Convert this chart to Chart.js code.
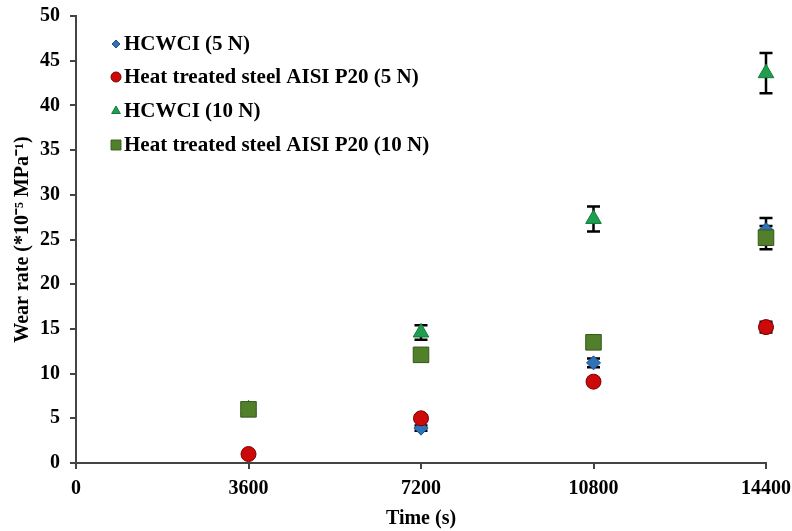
<!DOCTYPE html>
<html><head><meta charset="utf-8">
<script src="https://cdn.jsdelivr.net/npm/chart.js@4/dist/chart.umd.min.js"></script>
<style>html,body{margin:0;padding:0;background:#fff}#wrap{width:792px;height:531px}</style>
</head><body><div id="wrap"><canvas id="c" width="792" height="531"></canvas></div>
<script>
const times = [3600, 7200, 10800, 14400];
const seriesNames = ["HCWCI (5 N)", "Heat treated steel AISI P20 (5 N)", "HCWCI (10 N)", "Heat treated steel AISI P20 (10 N)"];
const hcwci5 = [1.0, 3.9, 11.2, 26.1];
const hcwci5Err = [0.2, 0.3, 0.5, 1.3];
const p20_5 = [1.0, 5.0, 9.1, 15.2];
const p20_5Err = [0.2, 0.3, 0.3, 0.6];
const hcwci10 = [6.0, 14.6, 27.3, 43.6];
const hcwci10Err = [0.3, 0.8, 1.4, 2.25];
const p20_10 = [6.0, 12.1, 13.5, 25.2];
const p20_10Err = [0.3, 0.3, 0.3, 1.3];
const yTicks = [0,5,10,15,20,25,30,35,40,45,50];
const xTicks = [0,3600,7200,10800,14400];

const FONT = "'Liberation Serif', 'Times New Roman', serif";
function pts(vals){ return times.map((t,i)=>({x:t,y:vals[i]})); }

const errorBars = {
  id:'errorBars',
  beforeDatasetsDraw(chart){
    const ctx = chart.ctx, xs = chart.scales.x, ys = chart.scales.y;
    ctx.save();
    ctx.strokeStyle = '#000'; ctx.lineWidth = 2.5;
    chart.data.datasets.forEach(ds=>{
      ds.data.forEach((p,i)=>{
        const e = ds.errors[i];
        const px = xs.getPixelForValue(p.x);
        const top = ys.getPixelForValue(p.y + e), bot = ys.getPixelForValue(p.y - e);
        ctx.beginPath();
        ctx.moveTo(px, top); ctx.lineTo(px, bot);
        ctx.moveTo(px-6.5, top); ctx.lineTo(px+6.5, top);
        ctx.moveTo(px-6.5, bot); ctx.lineTo(px+6.5, bot);
        ctx.stroke();
      });
    });
    ctx.restore();
  }
};

const customLegend = {
  id:'customLegend',
  afterDraw(chart){
    const ctx = chart.ctx;
    const rows = [44, 77, 111, 145];
    ctx.save();
    ctx.font = "bold 21px " + FONT;
    ctx.textBaseline = 'middle';
    chart.data.datasets.forEach((ds,i)=>{
      const y = rows[i];
      ctx.fillStyle = ds.backgroundColor; ctx.strokeStyle = ds.borderColor; ctx.lineWidth = 1;
      Chart.helpers.drawPoint(ctx, {pointStyle: ds.pointStyle, radius: ds.legendRadius, borderWidth:1}, 116, y);
      ctx.fillStyle = '#000';
      ctx.fillText(ds.label, 124, y+1);
    });
    ctx.restore();
  }
};

new Chart(document.getElementById('c'), {
  type:'scatter',
  data:{ datasets:[
    {label:seriesNames[0], data:pts(hcwci5), errors:hcwci5Err, pointStyle:'rectRot', pointRadius:7, legendRadius:4,
     backgroundColor:'#2f72b8', borderColor:'#1d4f88', borderWidth:1, order:4, clip:false},
    {label:seriesNames[1], data:pts(p20_5), errors:p20_5Err, pointStyle:'circle', pointRadius:7.5, legendRadius:5,
     backgroundColor:'#cc0a0a', borderColor:'#7a0000', borderWidth:1, order:3, clip:false},
    {label:seriesNames[2], data:pts(hcwci10), errors:hcwci10Err, pointStyle:'triangle', pointRadius:9, legendRadius:5,
     backgroundColor:'#1f9e50', borderColor:'#137a3a', borderWidth:1, order:2, clip:false},
    {label:seriesNames[3], data:pts(p20_10), errors:p20_10Err, pointStyle:'rect', pointRadius:11, legendRadius:7,
     backgroundColor:'#527f2a', borderColor:'#35591a', borderWidth:1, order:1, clip:false}
  ]},
  options:{
    responsive:false, animation:false,
    layout:{padding:{top:16,right:26,left:0,bottom:0}},
    plugins:{legend:{display:false}, tooltip:{enabled:false}},
    scales:{
      x:{type:'linear', min:0, max:14400,
         afterBuildTicks(s){ s.ticks = xTicks.map(v=>({value:v})); },
         afterFit(s){ s.height = 68; s.paddingRight = 0; s.paddingLeft = 0; },
         border:{color:'#444', width:2},
         grid:{drawOnChartArea:false, tickLength:6, color:'#444', lineWidth:2},
         ticks:{color:'#000', font:{family:FONT, size:20, weight:'bold'}, padding:8, maxRotation:0, callback:v=>String(v)},
         title:{display:true, text:'Time (s)', color:'#000', font:{family:FONT, size:20, weight:'bold'}, padding:{top:0,bottom:0}}
      },
      y:{type:'linear', min:0, max:50,
         afterBuildTicks(s){ s.ticks = yTicks.map(v=>({value:v})); },
         afterFit(s){ s.width = 76; s.paddingTop = 0; s.paddingBottom = 0; },
         border:{color:'#444', width:2},
         grid:{drawOnChartArea:false, tickLength:6, color:'#444', lineWidth:2},
         ticks:{color:'#000', font:{family:FONT, size:20, weight:'bold'}, padding:10, callback:v=>String(v)},
         title:{display:true, text:'Wear rate (*10\u207B\u2075 MPa\u207B\u00B9)', color:'#000', font:{family:FONT, size:20, weight:'bold'}, padding:{top:11,bottom:0}}
      }
    }
  },
  plugins:[errorBars, customLegend]
});
</script></body></html>
